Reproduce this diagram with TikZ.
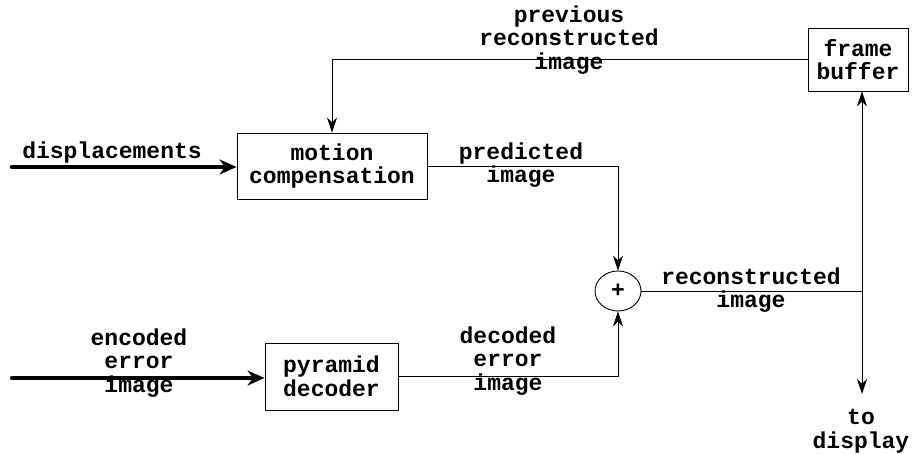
\documentclass[tikz,border=0pt]{standalone}
\usepackage{fontspec}
\setmainfont{Liberation Mono}
\usetikzlibrary{arrows.meta,shapes.geometric}
\begin{document}
\begin{tikzpicture}[x=1pt,y=-1pt,
  font=\fontsize{23}{23.5}\selectfont\bfseries,
  blk/.style={draw,line width=0.9pt,rectangle,inner sep=0pt,align=center},
  lbl/.style={align=center,inner sep=0pt},
  thin/.style={line width=0.9pt},
  tip/.style={-{Stealth[length=15pt,width=10pt]}},
  thick/.style={line width=4.5pt,line cap=round,-{Stealth[length=17pt,width=15pt]}}]
\useasboundingbox (0,0) rectangle (914,453);
\node[blk,minimum width=190pt,minimum height=66pt] (mc) at (332,166) {motion\\compensation};
\node[blk,minimum width=100pt,minimum height=63pt] (fb) at (858,59.5) {frame\\buffer};
\node[blk,minimum width=133pt,minimum height=67pt] (pd) at (331.5,376.5) {pyramid\\decoder};
\node[draw,thin,ellipse,minimum width=46pt,minimum height=40pt,inner sep=0pt] (plus) at (618,291) {+};
\coordinate (dispin) at (12,167);
\coordinate (encin) at (12,378);
\coordinate (j) at (862,291);
\coordinate (out) at (862,394);
\node[lbl] (tdisp) at (112,153) {displacements};
\node[lbl] (tprev) at (569,40) {previous\\reconstructed\\image};
\node[lbl] (tpred) at (521,165) {predicted\\image};
\node[lbl] (trec) at (751,290) {reconstructed\\image};
\node[lbl] (tdisplay) at (861,431) {to\\display};
\node[lbl] (tenc) at (139,363) {encoded\\error\\image};
\node[lbl] (tdec) at (508,361) {decoded\\error\\image};
\draw[thick] (dispin) -- (mc.west |- dispin);
\draw[thick] (encin) -- (pd.west |- encin);
\draw[thin,tip] (fb.west) -| (mc.north);
\draw[thin,tip] (mc.east) -| (plus.north);
\draw[thin,tip] (pd.east) -| (plus.south);
\draw[thin] (plus.east) -- (j);
\draw[thin,tip] (j) -- (j |- fb.south);
\draw[thin,tip] (j) -- (out);
\end{tikzpicture}
\end{document}
